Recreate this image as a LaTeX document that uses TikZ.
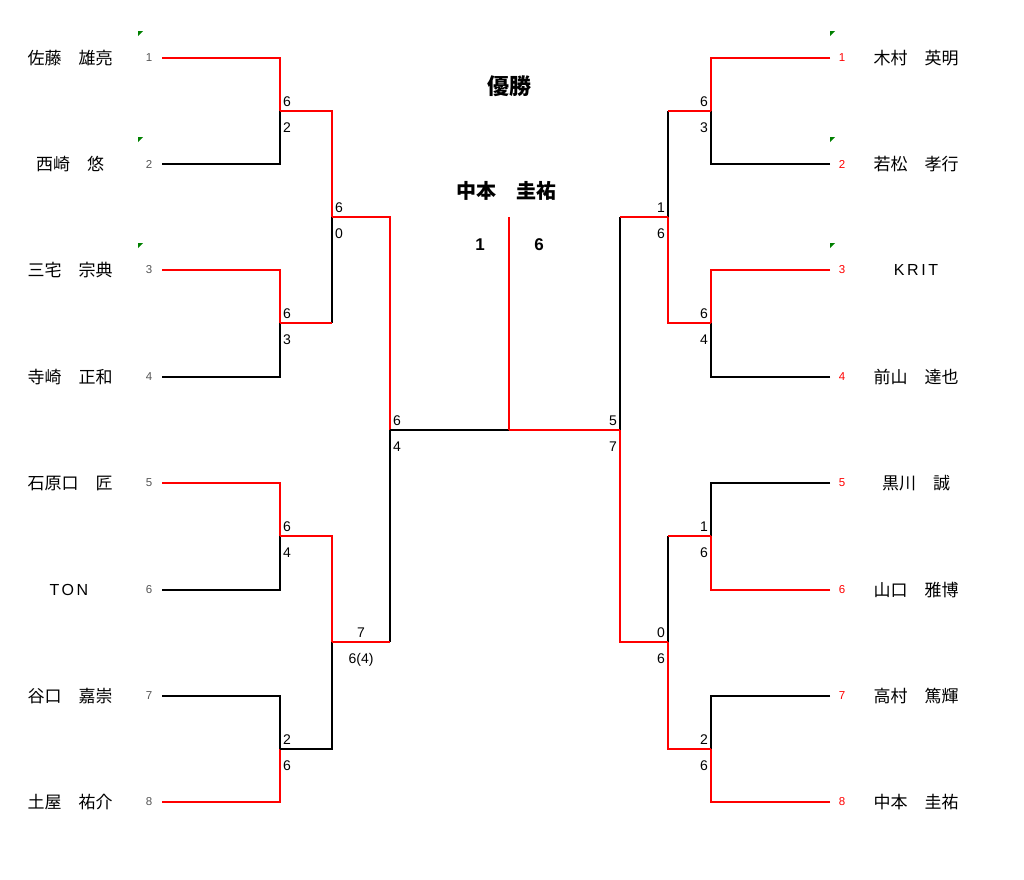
\documentclass[tikz,border=0pt]{standalone}
\usepackage{fontspec}
\setmainfont{Liberation Sans}
\newfontfamily\jpfont{Noto Sans CJK JP}
\newfontfamily\widefont[LetterSpace=16]{Liberation Sans}
\definecolor{seedgray}{HTML}{555555}
\definecolor{flaggreen}{HTML}{008000}
\tikzstyle{player} = [font=\jpfont\fontsize{17}{20}\selectfont, text centered, inner sep=0pt]
\tikzstyle{team} = [font=\widefont\fontsize{16}{20}\selectfont, inner sep=0pt]
\tikzstyle{seedL} = [font=\fontsize{11.5}{13}\selectfont, text=seedgray, inner sep=0pt]
\tikzstyle{seedR} = [font=\fontsize{11.5}{13}\selectfont, text=red, inner sep=0pt]
\tikzstyle{score} = [font=\fontsize{14}{16}\selectfont, inner sep=0pt]
\tikzstyle{topL} = [score, anchor=base west, xshift=3pt, yshift=5pt]
\tikzstyle{botL} = [score, anchor=base west, xshift=3pt, yshift=-21pt]
\tikzstyle{topR} = [score, anchor=base east, xshift=-3pt, yshift=5pt]
\tikzstyle{botR} = [score, anchor=base east, xshift=-3pt, yshift=-21pt]
\tikzstyle{title} = [font=\jpfont\bfseries\fontsize{22}{26}\selectfont, inner sep=0pt]
\tikzstyle{final} = [font=\bfseries\fontsize{17}{20}\selectfont, inner sep=0pt]
\tikzstyle{win} = [draw=red, line width=2pt]
\tikzstyle{lose} = [draw=black, line width=2pt]
\tikzstyle{flag} = [fill=flaggreen]
% horizontal part won, vertical part lost
\newcommand{\wonlost}[2]{\draw[lose] (#1 -| #2) -- (#2); \draw[win] (#1) -- (#1 -| #2);}

\begin{document}
\begin{tikzpicture}[x=1pt, y=-1pt]
    \useasboundingbox (0,0) rectangle (1024,879);
    % seeds and line ends
    \foreach \i/\y in {1/58,2/164,3/270,4/377,5/483,6/590,7/696,8/802} {
        \node (sL\i) [seedL] at (149,\y) {\i};
        \node (sR\i) [seedR] at (842,\y) {\i};
        \coordinate (L\i) at (162,\y);
        \coordinate (R\i) at (830,\y);
    }
    \foreach \y in {31,137,243} {
        \fill[flag] (138,\y) -- (143,\y) -- (138,\y+5) -- cycle;
        \fill[flag] (830,\y) -- (835,\y) -- (830,\y+5) -- cycle;
    }
    % players
    \node (nL1) [player] at (70,58) {佐藤　雄亮};
    \node (nL2) [player] at (70,164) {西崎　悠};
    \node (nL3) [player] at (70,270) {三宅　宗典};
    \node (nL4) [player] at (70,377) {寺崎　正和};
    \node (nL5) [player] at (70,483) {石原口　匠};
    \node (nL6) [team] at (69,590) {TON};
    \node (nL7) [player] at (70,696) {谷口　嘉崇};
    \node (nL8) [player] at (70,802) {土屋　祐介};
    \node (nR1) [player] at (916,58) {木村　英明};
    \node (nR2) [player] at (916,164) {若松　孝行};
    \node (nR3) [team] at (916,270) {KRIT};
    \node (nR4) [player] at (916,377) {前山　達也};
    \node (nR5) [player] at (916,483) {黒川　誠};
    \node (nR6) [player] at (916,590) {山口　雅博};
    \node (nR7) [player] at (916,696) {高村　篤輝};
    \node (nR8) [player] at (916,802) {中本　圭祐};
    % junctions
    \coordinate (LA) at (280,111);
    \coordinate (LB) at (280,323);
    \coordinate (LC) at (280,536);
    \coordinate (LD) at (280,749);
    \coordinate (LE) at (332,217);
    \coordinate (LF) at (332,642);
    \coordinate (LG) at (390,430);
    \coordinate (RA) at (711,111);
    \coordinate (RB) at (711,323);
    \coordinate (RC) at (711,536);
    \coordinate (RD) at (711,749);
    \coordinate (RE) at (668,217);
    \coordinate (RF) at (668,642);
    \coordinate (RG) at (620,430);
    \coordinate (ctr) at (509,430);
    \coordinate (top) at (509,217);
    % left block
    \draw[lose] (L2) -| (LA);
    \draw[lose] (L4) -| (LB);
    \draw[lose] (L6) -| (LC);
    \draw[lose] (L7) -| (LD);
    \draw[win] (L1) -| (LA);
    \draw[win] (L3) -| (LB);
    \draw[win] (L5) -| (LC);
    \draw[win] (L8) -| (LD);
    \draw[lose] (LD) -| (LF);
    \wonlost{LB}{LE}
    \draw[win] (LA) -| (LE);
    \draw[win] (LC) -| (LF);
    \wonlost{LF}{LG}
    \draw[win] (LE) -| (LG);
    % right block
    \draw[lose] (R2) -| (RA);
    \draw[lose] (R4) -| (RB);
    \draw[lose] (R5) -| (RC);
    \draw[lose] (R7) -| (RD);
    \draw[win] (R1) -| (RA);
    \draw[win] (R3) -| (RB);
    \draw[win] (R6) -| (RC);
    \draw[win] (R8) -| (RD);
    \wonlost{RA}{RE}
    \wonlost{RC}{RF}
    \draw[win] (RB) -| (RE);
    \draw[win] (RD) -| (RF);
    \wonlost{RE}{RG}
    \draw[win] (RF) -| (RG);
    % final
    \draw[lose] (LG) -- (ctr);
    \draw[win] (ctr) -- (RG);
    \draw[win] (ctr) -- (top);
    % scores
    \node (tLA) [topL] at (LA) {6};
    \node (bLA) [botL] at (LA) {2};
    \node (tLB) [topL] at (LB) {6};
    \node (bLB) [botL] at (LB) {3};
    \node (tLC) [topL] at (LC) {6};
    \node (bLC) [botL] at (LC) {4};
    \node (tLD) [topL] at (LD) {2};
    \node (bLD) [botL] at (LD) {6};
    \node (tLE) [topL] at (LE) {6};
    \node (bLE) [botL] at (LE) {0};
    \node (tLF) [score, anchor=base] at (361,637) {7};
    \node (bLF) [score, anchor=base] at (361,663) {6(4)};
    \node (tLG) [topL] at (LG) {6};
    \node (bLG) [botL] at (LG) {4};
    \node (tRA) [topR] at (RA) {6};
    \node (bRA) [botR] at (RA) {3};
    \node (tRB) [topR] at (RB) {6};
    \node (bRB) [botR] at (RB) {4};
    \node (tRC) [topR] at (RC) {1};
    \node (bRC) [botR] at (RC) {6};
    \node (tRD) [topR] at (RD) {2};
    \node (bRD) [botR] at (RD) {6};
    \node (tRE) [topR] at (RE) {1};
    \node (bRE) [botR] at (RE) {6};
    \node (tRF) [topR] at (RF) {0};
    \node (bRF) [botR] at (RF) {6};
    \node (tRG) [topR] at (RG) {5};
    \node (bRG) [botR] at (RG) {7};
    % champion
    \node (yusho) [title] at (509,86) {優勝};
    \node (champ) [title, font=\jpfont\bfseries\fontsize{20}{24}\selectfont] at (506,191) {中本　圭祐};
    \node (fL) [final] at (480,245) {1};
    \node (fR) [final] at (539,245) {6};
\end{tikzpicture}
\end{document}
